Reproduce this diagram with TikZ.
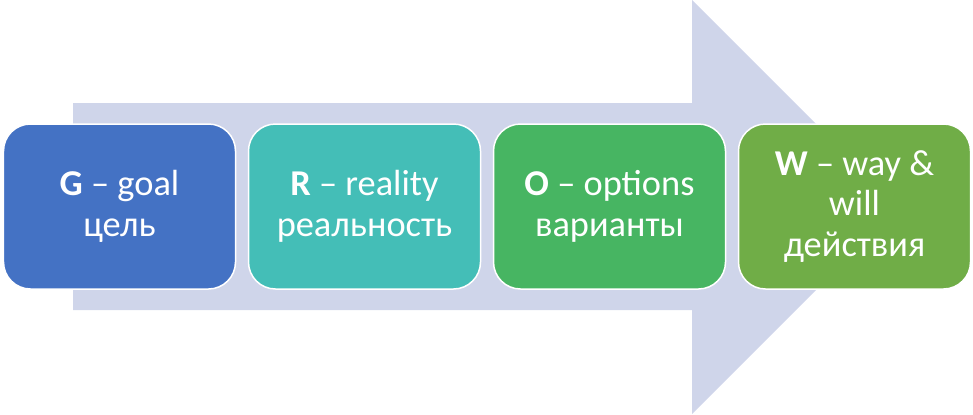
\documentclass[tikz,border=0pt]{standalone}
\usepackage{fontspec}
\setmainfont{Carlito}
\definecolor{arrowc}{HTML}{CFD5EA}
\definecolor{cg}{HTML}{4472C4}
\definecolor{cr}{HTML}{44BEB7}
\definecolor{co}{HTML}{47B562}
\definecolor{cw}{HTML}{70AD47}
\begin{document}
\begin{tikzpicture}[x=1bp,y=-1bp,
  box/.style={rounded corners=27bp, draw=white, line width=1.5bp,
    minimum width=232bp, minimum height=165bp, text=white, align=center,
    font=\fontsize{36.5}{41}\selectfont, inner sep=0pt}]
\useasboundingbox (0,0) rectangle (973,414);
\fill[arrowc] (73,103) -- (692,103) -- (692,0) -- (899,207) -- (692,414) -- (692,310) -- (73,310) -- cycle;
\node[box, fill=cg] (g) at (119.5,206.5) {\textbf{G} – goal\\цель};
\node[box, fill=cr] (r) at (364.5,206.5) {\textbf{R} – reality\\реальность};
\node[box, fill=co] (o) at (609.5,206.5) {\textbf{O} – options\\варианты};
\node[box, fill=cw] (w) at (854.5,206.5) {\textbf{W} – way \&\\will\\действия};
\end{tikzpicture}
\end{document}
